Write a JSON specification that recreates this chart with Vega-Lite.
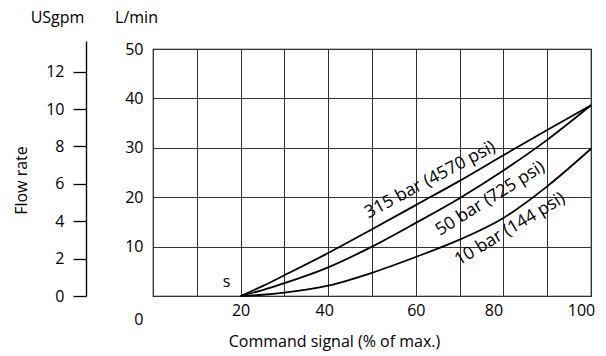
{
  "$schema": "https://vega.github.io/schema/vega-lite/v6.json",
  "width": 438,
  "height": 247,
  "autosize": {"type": "none"},
  "padding": {"left": 153, "top": 49, "right": 15, "bottom": 60},
  "config": {
    "font": "Open Sans",
    "view": {"stroke": "#000", "strokeWidth": 1.2},
    "axis": {
      "labelFont": "Open Sans",
      "titleFont": "Open Sans",
      "labelFontSize": 16,
      "titleFontSize": 16,
      "labelColor": "#000",
      "titleColor": "#000",
      "titleFontWeight": "normal",
      "labelOverlap": false,
      "labelBound": false
    },
    "text": {"font": "Open Sans", "color": "#000"}
  },
  "datasets": {
    "curves": [
      {"pressure": "315 bar", "signal": 20, "flow": 0},
      {"pressure": "315 bar", "signal": 25, "flow": 2.0},
      {"pressure": "315 bar", "signal": 30, "flow": 4.2},
      {"pressure": "315 bar", "signal": 40, "flow": 8.7},
      {"pressure": "315 bar", "signal": 50, "flow": 13.5},
      {"pressure": "315 bar", "signal": 60, "flow": 18.4},
      {"pressure": "315 bar", "signal": 70, "flow": 23.3},
      {"pressure": "315 bar", "signal": 80, "flow": 28.5},
      {"pressure": "315 bar", "signal": 90, "flow": 33.6},
      {"pressure": "315 bar", "signal": 100, "flow": 38.6},
      {"pressure": "50 bar", "signal": 20, "flow": 0},
      {"pressure": "50 bar", "signal": 25, "flow": 1.2},
      {"pressure": "50 bar", "signal": 30, "flow": 2.6},
      {"pressure": "50 bar", "signal": 40, "flow": 5.8},
      {"pressure": "50 bar", "signal": 50, "flow": 10.0},
      {"pressure": "50 bar", "signal": 60, "flow": 14.8},
      {"pressure": "50 bar", "signal": 70, "flow": 19.8},
      {"pressure": "50 bar", "signal": 80, "flow": 25.4},
      {"pressure": "50 bar", "signal": 90, "flow": 31.6},
      {"pressure": "50 bar", "signal": 100, "flow": 38.6},
      {"pressure": "10 bar", "signal": 20, "flow": 0},
      {"pressure": "10 bar", "signal": 25, "flow": 0.25},
      {"pressure": "10 bar", "signal": 30, "flow": 0.7},
      {"pressure": "10 bar", "signal": 40, "flow": 2.1},
      {"pressure": "10 bar", "signal": 50, "flow": 4.7},
      {"pressure": "10 bar", "signal": 60, "flow": 7.9},
      {"pressure": "10 bar", "signal": 70, "flow": 11.4},
      {"pressure": "10 bar", "signal": 80, "flow": 15.8},
      {"pressure": "10 bar", "signal": 90, "flow": 22.2},
      {"pressure": "10 bar", "signal": 100, "flow": 29.8}
    ],
    "labels": [
      {"key": "315", "text": "315 bar (4570 psi)", "signal": 63.3, "flow": 23.5},
      {"key": "50", "text": "50 bar (725 psi)", "signal": 77.0, "flow": 19.7},
      {"key": "10", "text": "10 bar (144 psi)", "signal": 81.5, "flow": 13.5},
      {"key": "s", "text": "s", "signal": 16.8, "flow": 2.9}
    ]
  },
  "layer": [
    {
      "layer": [
        {
          "data": {"name": "curves"},
          "mark": {"type": "line", "interpolate": "monotone", "color": "#000", "strokeWidth": 1.8},
          "encoding": {
            "x": {
              "field": "signal",
              "type": "quantitative",
              "scale": {"domain": [0, 100], "nice": false},
              "axis": {
                "values": [0, 10, 20, 30, 40, 50, 60, 70, 80, 90, 100],
                "labelExpr": "datum.value % 20 == 0 && datum.value > 0 ? datum.label : ''",
                "labelFlush": false,
                "grid": true,
                "gridColor": "#333",
                "gridWidth": 1,
                "ticks": false,
                "domain": false,
                "labelPadding": 6,
                "labelOffset": {"condition": [{"test": "datum.value >= 80", "value": -10}, {"test": "datum.value == 40", "value": -4}], "value": 0},
                "title": "Command signal (% of max.)",
                "titleX": 181,
                "titleY": 45,
                "titleAlign": "center",
                "titleBaseline": "middle"
              }
            },
            "y": {
              "field": "flow",
              "type": "quantitative",
              "scale": {"domain": [0, 50], "nice": false},
              "axis": {
                "values": [0, 10, 20, 30, 40, 50],
                "grid": true,
                "gridColor": "#333",
                "gridWidth": 1,
                "ticks": false,
                "domain": false,
                "labelPadding": 10,
                "labelOffset": {"condition": {"test": "datum.value == 0", "value": 23}, "value": 0},
                "title": "L/min",
                "titleAngle": 0,
                "titleX": -17,
                "titleY": -32,
                "titleAlign": "center",
                "titleBaseline": "middle"
              }
            },
            "detail": {"field": "pressure"}
          }
        },
        {
          "data": {"name": "labels"},
          "transform": [{"filter": "datum.key == '315'"}],
          "mark": {"type": "text", "angle": -28, "fontSize": 17.5, "align": "center", "baseline": "middle"},
          "encoding": {
            "x": {"field": "signal", "type": "quantitative"},
            "y": {"field": "flow", "type": "quantitative"},
            "text": {"field": "text"}
          }
        },
        {
          "data": {"name": "labels"},
          "transform": [{"filter": "datum.key == '50'"}],
          "mark": {"type": "text", "angle": -32, "fontSize": 17.5, "align": "center", "baseline": "middle"},
          "encoding": {
            "x": {"field": "signal", "type": "quantitative"},
            "y": {"field": "flow", "type": "quantitative"},
            "text": {"field": "text"}
          }
        },
        {
          "data": {"name": "labels"},
          "transform": [{"filter": "datum.key == '10'"}],
          "mark": {"type": "text", "angle": -31, "fontSize": 17.5, "align": "center", "baseline": "middle"},
          "encoding": {
            "x": {"field": "signal", "type": "quantitative"},
            "y": {"field": "flow", "type": "quantitative"},
            "text": {"field": "text"}
          }
        },
        {
          "data": {"name": "labels"},
          "transform": [{"filter": "datum.key == 's'"}],
          "mark": {"type": "text", "fontSize": 16, "align": "center", "baseline": "middle"},
          "encoding": {
            "x": {"field": "signal", "type": "quantitative"},
            "y": {"field": "flow", "type": "quantitative"},
            "text": {"field": "text"}
          }
        }
      ]
    },
    {
      "data": {"values": [{"usgpm": 0}, {"usgpm": 13.64}]},
      "mark": {"type": "point", "opacity": 0},
      "encoding": {
        "y": {
          "field": "usgpm",
          "type": "quantitative",
          "scale": {"domain": [0, 13.64], "range": [247, -8], "nice": false, "zero": true},
          "axis": {
            "orient": "left",
            "offset": 67,
            "values": [0, 2, 4, 6, 8, 10, 12],
            "grid": false,
            "tickSize": 13,
            "tickColor": "#000",
            "tickWidth": 1.3,
            "domainColor": "#000",
            "domainWidth": 1.4,
            "labelPadding": 9,
            "title": "USgpm",
            "titleAngle": 0,
            "titleX": -29,
            "titleY": -32,
            "titleAlign": "center",
            "titleBaseline": "middle"
          }
        }
      }
    },
    {
      "data": {"values": [{"rate": 0}, {"rate": 1}]},
      "mark": {"type": "point", "opacity": 0},
      "encoding": {
        "y": {
          "field": "rate",
          "type": "quantitative",
          "axis": {
            "orient": "left",
            "offset": 0,
            "domain": false,
            "ticks": false,
            "labels": false,
            "grid": false,
            "title": "Flow rate",
            "titleAngle": -90,
            "titleX": -132,
            "titleY": 131,
            "titleAlign": "center",
            "titleBaseline": "middle"
          }
        }
      }
    }
  ],
  "resolve": {"scale": {"y": "independent"}}
}
